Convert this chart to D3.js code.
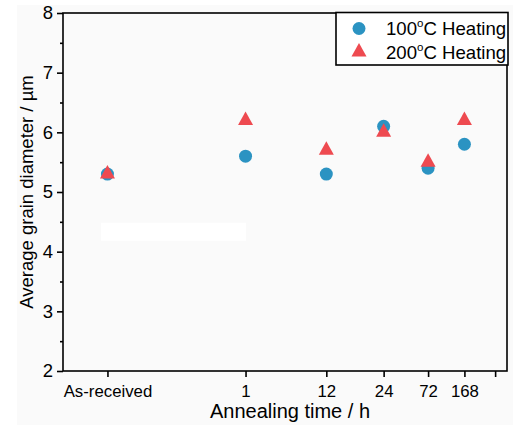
<!DOCTYPE html>
<html>
<head>
<meta charset="utf-8">
<script src="https://cdn.jsdelivr.net/npm/d3@7"></script>
<style>
  html, body { margin: 0; padding: 0; background: #ffffff; }
  svg { display: block; font-family: "Liberation Sans", Arial, sans-serif; }
</style>
</head>
<body>
<svg id="chart" width="513" height="430"></svg>
<script>
// ---- data ----
const categories = ["As-received", "1", "12", "24", "72", "168"];
const heating100 = [5.3, 5.6, 5.3, 6.1, 5.4, 5.8];
const heating200 = [5.3, 6.2, 5.7, 6.0, 5.5, 6.2];
const seriesNames = ["100", "200"];
const yTicks = [2, 3, 4, 5, 6, 7, 8];
const yMinorTicks = [2.5, 3.5, 4.5, 5.5, 6.5, 7.5];
const xTickPositions = [1, 2, 3, 4, 5, 6, 7];   // log-spaced slots
const xTickLabels = ["As-received", "1", "12", "24", "72", "168", ""];

const blue = "#2b93c2";
const red = "#ee4a50";

const svg = d3.select("#chart");
const W = 513, H = 430;
const m = { left: 63, right: 507, top: 13, bottom: 371 };

// faint background
svg.append("rect").attr("x", 17).attr("y", 5).attr("width", W - 17).attr("height", 420).attr("fill", "#fafafa");

const x = d3.scaleLog().domain([0.8, 7.43]).range([m.left, m.right]);
const y = d3.scaleLinear().domain([2, 8]).range([m.bottom, m.top]);

// white strip artifact
svg.append("rect").attr("x", 101).attr("y", y(4.5) + 1).attr("width", 145).attr("height", 18).attr("fill", "#ffffff");

// frame
svg.append("rect").attr("x", m.left).attr("y", m.top)
  .attr("width", m.right - m.left).attr("height", m.bottom - m.top)
  .attr("fill", "none").attr("stroke", "#000").attr("stroke-width", 1.6);

// y axis
const yAxis = d3.axisLeft(y).tickValues(yTicks).tickFormat(d3.format("d")).tickSize(6).tickPadding(4);
const gy = svg.append("g").attr("transform", `translate(${m.left},0)`).call(yAxis);
gy.select(".domain").remove();
gy.selectAll(".tick line").attr("stroke-width", 1.6);
gy.selectAll(".tick text").attr("font-size", 18.5).attr("font-family", "Liberation Sans, Arial, sans-serif").attr("fill", "#000");
const yMinor = d3.axisLeft(y).tickValues(yMinorTicks).tickFormat("").tickSize(3);
const gym = svg.append("g").attr("transform", `translate(${m.left},0)`).call(yMinor);
gym.select(".domain").remove();
gym.selectAll(".tick line").attr("stroke-width", 1.6);

// x axis
const xAxis = d3.axisBottom(x).tickValues(xTickPositions).tickFormat((d, i) => xTickLabels[i]).tickSize(6).tickPadding(8);
const gx = svg.append("g").attr("transform", `translate(0,${m.bottom})`).call(xAxis);
gx.select(".domain").remove();
gx.selectAll(".tick line").attr("stroke-width", 1.6);
gx.selectAll(".tick text").attr("font-size", 16.8).attr("font-family", "Liberation Sans, Arial, sans-serif").attr("fill", "#000");

// axis titles
svg.append("text").attr("x", 290).attr("y", 418).attr("text-anchor", "middle")
  .attr("font-size", 20).text("Annealing time / h");
svg.append("text").attr("transform", `translate(33,${(m.top + m.bottom) / 2}) rotate(-90)`)
  .attr("text-anchor", "middle").attr("font-size", 18.5).text("Average grain diameter / µm");

// markers
const tri = (cx, cy, w, h) => {
  const top = cy - h * 2 / 3, bot = cy + h / 3;
  return `M${cx},${top}L${cx - w / 2},${bot}L${cx + w / 2},${bot}Z`;
};
svg.append("g").selectAll("circle").data(heating100).join("circle")
  .attr("cx", (d, i) => x(i + 1)).attr("cy", d => y(d)).attr("r", 6.5).attr("fill", blue);
svg.append("g").selectAll("path").data(heating200).join("path")
  .attr("d", (d, i) => tri(x(i + 1), y(d), 15, 13.5)).attr("fill", red);

// legend
const lg = svg.append("g");
lg.append("rect").attr("x", 336).attr("y", 12.5).attr("width", 172).attr("height", 52.5)
  .attr("fill", "#fff").attr("stroke", "#000").attr("stroke-width", 1.6);
lg.append("circle").attr("cx", 359).attr("cy", 28.5).attr("r", 6.5).attr("fill", blue);
lg.append("path").attr("d", tri(359, 52, 15, 13.5)).attr("fill", red);
[["100", 35], ["200", 59]].forEach(([t, yy], i) => {
  const tx = lg.append("text").attr("x", 386).attr("y", yy).attr("font-size", 18.6);
  tx.append("tspan").text(seriesNames[i]);
  tx.append("tspan").attr("font-size", 11.5).attr("dy", -8).text("o");
  tx.append("tspan").attr("dy", 8).text("C Heating");
});
</script>
</body>
</html>
